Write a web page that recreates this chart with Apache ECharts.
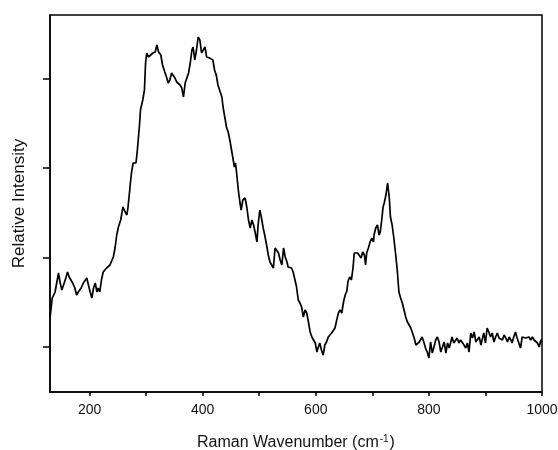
<!DOCTYPE html>
<html><head><meta charset="utf-8">
<script src="https://cdn.jsdelivr.net/npm/echarts@6/dist/echarts.min.js"></script>
<style>html,body{margin:0;padding:0;background:#fff}#c{width:558px;height:450px}</style>
</head><body><div id="c"></div>
<script>
// Raman spectrum: wavenumber (cm-1) and relative intensity (arbitrary units)
const wavenumbers = [
130,134,139,145,148,151,154,158,161,164,167,170,174,177,180,185,189,192,195,198,
201,204,207,210,213,215,218,221,224,227,230,236,242,
245,248,251,255,259,263,266,268,271,274,277,282,284,288,290,294,297,299,301,304,
307,312,316,319,322,326,329,333,336,339,342,345,348,351,354,357,360,363,366,369,
372,375,378,381,383,386,389,392,395,398,401,404,407,412,415,418,421,424,427,431,
434,436,439,442,445,448,451,454,456,458,460,463,466,468,471,475,478,481,484,487,
490,493,496,498,501,504,507,510,513,516,519,522,525,528,531,534,537,540,543,546,
549,551,554,557,560,563,566,569,572,575,578,581,584,587,590,593,596,599,602,604,
607,610,613,616,619,622,625,628,631,634,637,640,643,646,649,652,655,657,660,663,
666,668,671,674,677,680,683,686,688,690,693,696,699,702,703,706,709,712,714,717,
719,721,724,727,730,732,735,738,741,744,747,750,753,756,759,762,765,768,771,774,
777,780,783,786,788,791,794,797,800,803,806,809,812,815,818,821,824,827,830,833,
836,839,841,844,847,850,853,856,859,862,865,868,871,874,877,880,883,886,889,892,
894,897,900,903,906,909,912,915,918,921,924,927,930,933,936,939,942,945,947,950,
953,956,959,962,965,968,971,974,977,980,983,986,989,992,995,998,1000
];
const intensities = [
74,94,100,119,109,102,100,114,120,115,115,109,104,97,100,104,109,110,114,107,
100,94,104,109,100,104,100,112,120,119,124,127,135,
144,157,165,172,185,180,177,185,202,219,229,229,239,265,282,292,302,329,339,335,
337,339,340,347,340,337,327,320,315,309,312,319,320,314,310,312,307,304,295,309,
310,319,329,342,345,332,342,355,352,339,342,345,335,334,332,332,322,317,307,300,
295,285,275,265,260,252,242,232,225,229,219,202,189,182,192,194,185,172,164,172,
167,159,150,167,182,174,164,156,147,137,130,127,124,144,145,139,132,127,144,135,
130,125,124,124,120,119,105,92,89,85,75,82,79,70,60,55,54,49,40,44,
49,42,37,47,50,55,54,59,57,64,72,79,82,79,90,97,101,111,115,112,
125,139,140,139,137,134,140,137,127,139,144,150,154,150,157,164,167,157,160,174,
185,189,197,209,194,175,167,154,139,122,100,94,89,82,75,70,67,64,59,54,
47,49,50,52,55,50,44,40,34,50,39,45,52,55,50,40,45,50,39,49,
44,42,55,49,50,54,49,52,50,47,44,49,40,59,54,60,50,52,55,47,
52,59,49,64,60,55,59,50,55,59,54,55,52,57,54,50,55,52,49,55,
60,54,55,44,55,57,54,52,55,52,55,52,50,49,45,52,50
];
const xTickValues = [200,300,400,500,600,700,800,900,1000];
const xLabelValues = [200,400,600,800,1000];
const yTickValues = [45,134,224,313];

const FONT = '"Liberation Sans", Arial, sans-serif';
const chart = echarts.init(document.getElementById('c'), null, {renderer: 'canvas'});
chart.setOption({
  animation: false,
  backgroundColor: '#fff',
  grid: {left: 50, right: 16, top: 15, bottom: 58, containLabel: false, outerBoundsMode: 'none',
    show: true, borderColor: '#000', borderWidth: 1.5, backgroundColor: 'transparent'},
  xAxis: {
    type: 'value', min: 130, max: 1000,
    axisLine: {show: true, lineStyle: {color: '#000', width: 1.5}},
    axisTick: {show: true, inside: false, length: 4, customValues: xTickValues, lineStyle: {color: '#000', width: 1.5}},
    axisLabel: {show: true, customValues: xLabelValues, formatter: (v) => String(v), color: '#111', fontSize: 14, fontFamily: FONT, margin: 11},
    splitLine: {show: false},
    name: 'Raman Wavenumber (cm{sup|-1})',
    nameLocation: 'middle', nameGap: 42,
    nameTextStyle: {color: '#111', fontSize: 16, fontFamily: FONT,
      rich: {sup: {fontSize: 10, fontFamily: FONT, color: '#111', verticalAlign: 'top', padding: [0, 1, 8, 1]}}}
  },
  yAxis: {
    type: 'value', min: 0, max: 377,
    axisLine: {show: true, lineStyle: {color: '#000', width: 1.5}},
    axisTick: {show: true, inside: false, length: 7, customValues: yTickValues, lineStyle: {color: '#000', width: 1.5}},
    axisLabel: {show: false},
    splitLine: {show: false},
    name: 'Relative Intensity', nameLocation: 'middle', nameGap: 22, nameRotate: 90,
    nameTextStyle: {color: '#111', fontSize: 17, fontFamily: FONT}
  },
  series: [{
    type: 'line', showSymbol: false, smooth: false,
    lineStyle: {color: '#000', width: 1.7},
    data: wavenumbers.map((w, i) => [w, intensities[i]])
  }]
});
</script></body></html>
